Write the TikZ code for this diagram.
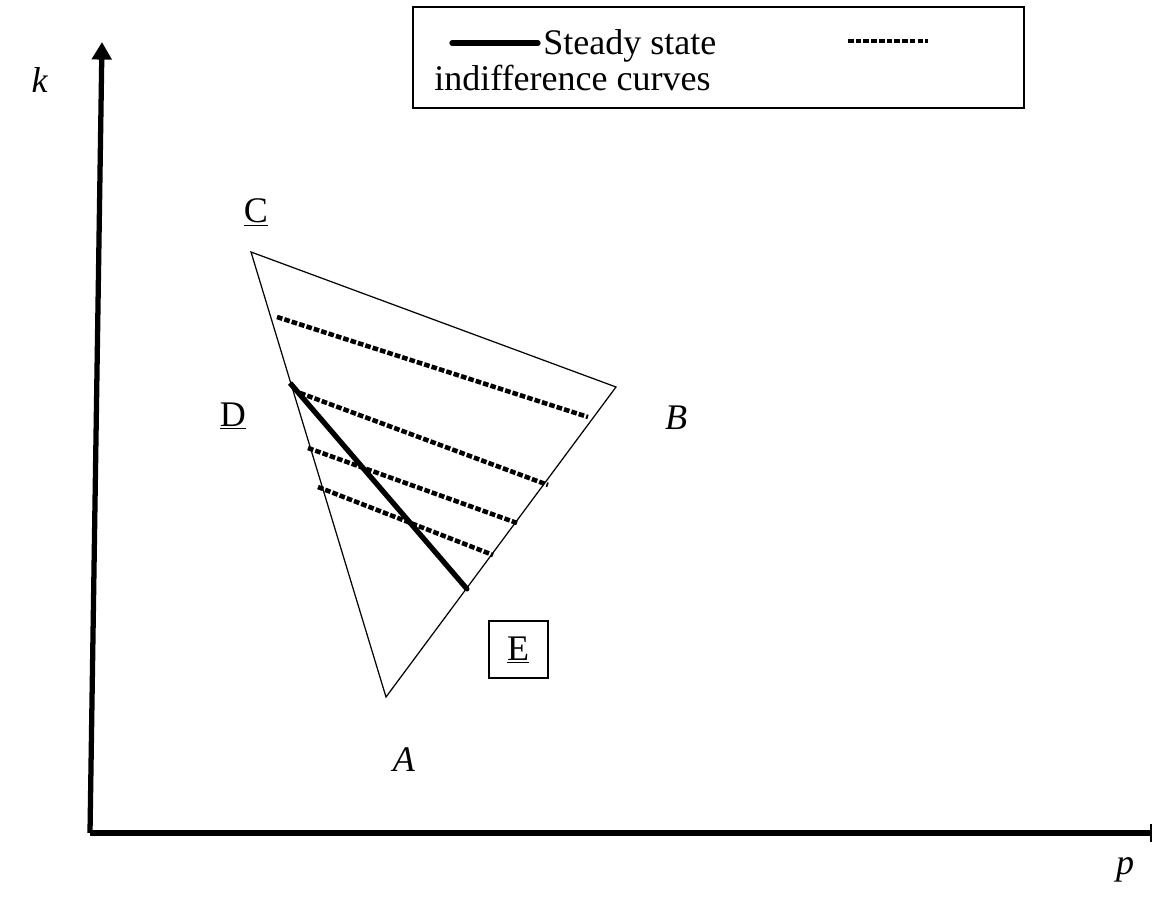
\documentclass[tikz,border=0pt]{standalone}
\usepackage{fontspec}
\setmainfont{Liberation Serif}
\usetikzlibrary{arrows.meta}
\begin{document}
\begin{tikzpicture}[x=0.02cm,y=-0.02cm,
  axis/.style={line width=3pt},
  edge/.style={line width=0.7pt},
  steady/.style={line width=3pt},
  indiff/.style={line width=2.6pt,dash pattern=on 3.2pt off 1.2pt},
  lbl/.style={font=\fontsize{20.5}{24}\selectfont,inner sep=0pt}]
\useasboundingbox (0,0) rectangle (1154,913);
% axes
\coordinate (O) at (90,833);
\coordinate (Ytop) at (102,42);
\coordinate (Xend) at (1152,833);
\draw[axis,-{Triangle[width=11pt,length=10pt]}] (O) -- (Ytop);
\draw[axis,-{Bar[width=10pt,line width=1.4pt]}] (O) -- (Xend);
% triangle
\coordinate (C) at (251,252);
\coordinate (B) at (616,387);
\coordinate (A) at (386,697);
\draw[edge] (C) -- (B) -- (A) -- cycle;
% indifference curves
\coordinate (i1a) at (277,317); \coordinate (i1b) at (588,417);
\coordinate (i2a) at (300,393); \coordinate (i2b) at (548,485);
\coordinate (i3a) at (308,448); \coordinate (i3b) at (517,523);
\coordinate (i4a) at (318,487); \coordinate (i4b) at (493,555);
\draw[indiff] (i1a) -- (i1b);
\draw[indiff] (i2a) -- (i2b);
\draw[indiff] (i3a) -- (i3b);
\draw[indiff] (i4a) -- (i4b);
% steady state
\coordinate (D) at (290,383);
\coordinate (Ept) at (467,589);
\draw[steady] (D) -- (Ept);
\fill (Ept) circle (2.5);
% labels
\node[lbl] (lk) at (40,80) {\textit{k}};
\node[lbl] (lp) at (1125,870) {\textit{p}};
\node[lbl] (lC) at (256,213) {\underline{C}};
\node[lbl] (lD) at (233,416) {\underline{D}};
\node[lbl] (lB) at (676,418) {\textit{B}};
\node[lbl] (lA) at (404,760) {\textit{A}};
\draw[edge] (489,621) rectangle (548,678);
\node[lbl] (lE) at (518,650) {\underline{E}};
% legend
\draw[line width=0.8pt] (413,7) rectangle (1024,108);
\draw[steady,line cap=round] (452,43) -- (538,43);
\node[lbl,anchor=base west] (ls) at (543,54) {Steady state};
\draw[indiff] (848,41) -- (928,41);
\node[lbl,anchor=base west] (li) at (434,90) {indifference curves};
\end{tikzpicture}
\end{document}
